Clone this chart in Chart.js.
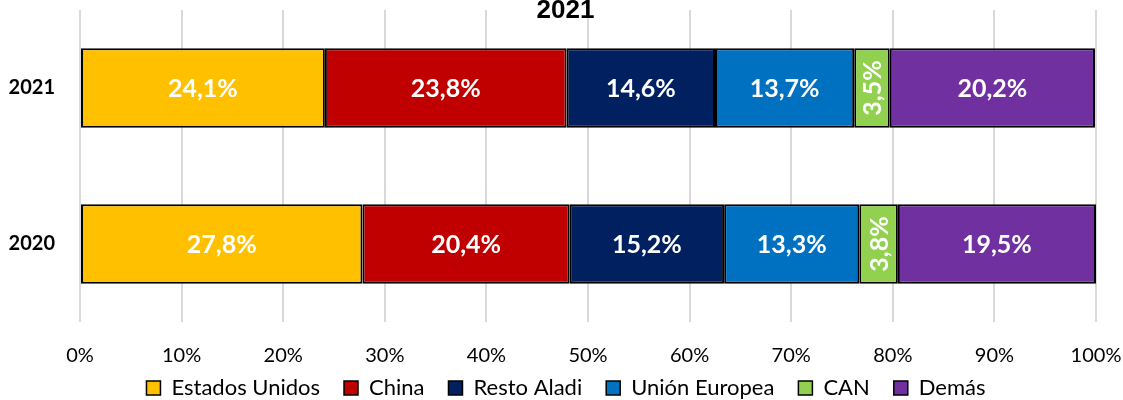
<!DOCTYPE html>
<html>
<head>
<meta charset="utf-8">
<script src="https://cdn.jsdelivr.net/npm/chart.js@4"></script>
<style>
  body { margin: 0; background: #fff; }
  #wrap { width: 1123px; height: 400px; }
</style>
</head>
<body>
<div id="wrap"><canvas id="chart"></canvas></div>
<script>
// Years shown on the y axis
const years = ['2021', '2020'];

// Share of each destination per year (%)
const estadosUnidos = [24.1, 27.8];
const china = [23.8, 20.4];
const restoAladi = [14.6, 15.2];
const unionEuropea = [13.7, 13.3];
const can = [3.5, 3.8];
const demas = [20.2, 19.5];

const seriesNames = ['Estados Unidos', 'China', 'Resto Aladi', 'Unión Europea', 'CAN', 'Demás'];
const seriesValues = [estadosUnidos, china, restoAladi, unionEuropea, can, demas];
const seriesColors = ['#FFC000', '#C00000', '#002060', '#0070C0', '#92D050', '#7030A0'];

const titleText = '2021';
const xTicks = [0, 10, 20, 30, 40, 50, 60, 70, 80, 90, 100];

const fmt = v => v.toFixed(1).replace('.', ',') + '%';

// Draws the value labels inside each bar (rotated when the bar is narrow)
const barLabels = {
    id: 'barLabels',
    afterDatasetsDraw(chart) {
        const ctx = chart.ctx;
        ctx.save();
        ctx.fillStyle = '#fff';
        ctx.font = 'bold 25px Lato, "Open Sans", sans-serif';
        ctx.textAlign = 'center';
        ctx.textBaseline = 'middle';
        chart.data.datasets.forEach((ds, i) => {
            chart.getDatasetMeta(i).data.forEach((bar, j) => {
                const cx = (bar.x + bar.base) / 2;
                const text = fmt(ds.data[j]);
                if (ds.data[j] < 5) {
                    ctx.save();
                    ctx.translate(cx, bar.y);
                    ctx.rotate(-Math.PI / 2);
                    ctx.fillText(text, 0, 1);
                    ctx.restore();
                } else {
                    ctx.fillText(text, cx, bar.y + 1);
                }
            });
        });
        ctx.restore();
    }
};

// Title sits over the top of the plot area like in the original
const topTitle = {
    id: 'topTitle',
    afterDraw(chart) {
        const ctx = chart.ctx;
        ctx.save();
        ctx.fillStyle = '#000';
        ctx.font = 'bold 26px "Liberation Sans", Arial, sans-serif';
        ctx.textAlign = 'center';
        ctx.textBaseline = 'alphabetic';
        ctx.fillText(titleText, chart.width / 2 + 4, 18);
        ctx.restore();
    }
};

// Keep the legend strip short, then nudge it to where the original has it
const legendPlace = {
    id: 'legendPlace',
    afterInit(chart) {
        const lg = chart.legend;
        const fit = lg.fit;
        lg.fit = function () {
            fit.call(this);
            this.height = 33;
        };
    },
    afterLayout(chart) {
        const lg = chart.legend;
        lg.top -= 14;
        lg.left += 18;
        lg.right += 18;
    }
};

new Chart(document.getElementById('chart'), {
    type: 'bar',
    data: {
        labels: years,
        datasets: seriesNames.map((name, i) => ({
            label: name,
            data: seriesValues[i],
            backgroundColor: seriesColors[i],
            borderColor: '#000',
            borderWidth: 2,
            borderSkipped: false,
            barPercentage: 1,
            categoryPercentage: 0.51
        }))
    },
    options: {
        indexAxis: 'y',
        responsive: true,
        maintainAspectRatio: false,
        animation: false,
        layout: { padding: { top: 10, right: 27, left: 0, bottom: 0 } },
        scales: {
            x: {
                stacked: true,
                min: 0,
                max: 100,
                afterBuildTicks: scale => { scale.ticks = xTicks.map(v => ({ value: v })); },
                afterFit: scale => {
                    scale.height = 45;
                    scale.paddingLeft = 0;
                    scale.paddingRight = 0;
                },
                ticks: {
                    callback: v => v + '%',
                    color: '#000',
                    font: { size: 20, family: 'Lato, "Open Sans", sans-serif' },
                    padding: 22,
                    maxRotation: 0
                },
                grid: { color: '#d9d9d9', lineWidth: 2, drawTicks: false },
                border: { display: false }
            },
            y: {
                stacked: true,
                afterFit: scale => {
                    scale.width = 80;
                    scale.paddingTop = 0;
                    scale.paddingBottom = 0;
                },
                ticks: {
                    color: '#000',
                    font: { size: 20, weight: 'bold', family: 'Lato, "Open Sans", sans-serif' },
                    padding: 17
                },
                grid: { display: false },
                border: { display: false }
            }
        },
        plugins: {
            legend: {
                position: 'bottom',
                labels: {
                    color: '#000',
                    font: { size: 22, family: 'Lato, "Open Sans", sans-serif' },
                    boxWidth: 14,
                    boxHeight: 14,
                    padding: 24,
                    generateLabels: chart => chart.data.datasets.map((ds, i) => ({
                        text: ds.label,
                        fillStyle: ds.backgroundColor,
                        strokeStyle: '#000',
                        lineWidth: 1.5,
                        datasetIndex: i
                    }))
                }
            },
            tooltip: { enabled: false }
        }
    },
    plugins: [barLabels, topTitle, legendPlace]
});
</script>
</body>
</html>
